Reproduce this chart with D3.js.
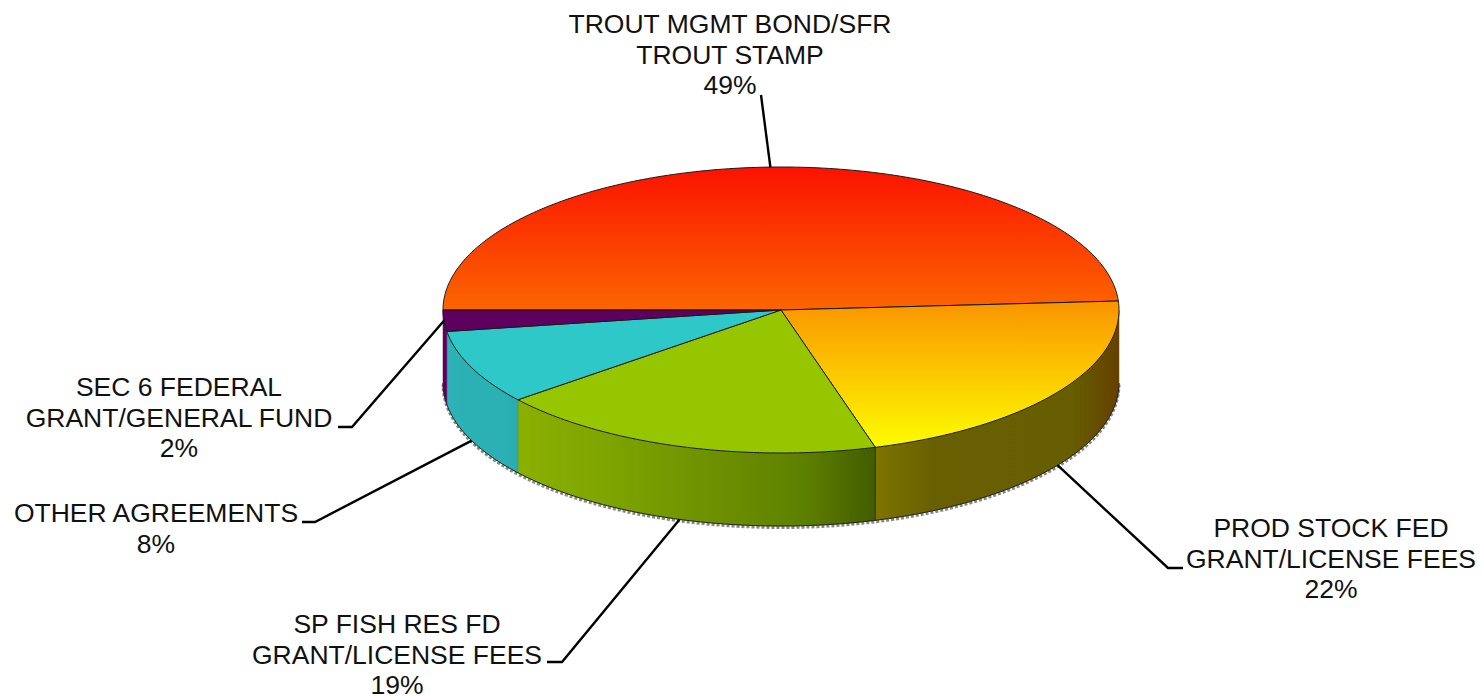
<!DOCTYPE html>
<html>
<head>
<meta charset="utf-8">
<script src="https://cdn.jsdelivr.net/npm/d3@7/dist/d3.min.js"></script>
<style>
html,body{margin:0;padding:0;background:#fff;overflow:hidden}
svg{display:block}
text{font-family:"Liberation Sans",Arial,sans-serif;font-size:26.5px;fill:#111;text-anchor:middle}
</style>
</head>
<body>
<svg id="chart" width="1483" height="697"></svg>
<script>
// Data
const categories = ["TROUT MGMT BOND/SFR|TROUT STAMP", "PROD STOCK FED|GRANT/LICENSE FEES", "SP FISH RES FD|GRANT/LICENSE FEES", "OTHER AGREEMENTS", "SEC 6 FEDERAL|GRANT/GENERAL FUND"];
const values = [49.0, 21.5, 18.7, 8.4, 2.4];
const percentLabels = ["49%", "22%", "19%", "8%", "2%"];

// Styling and layout
const topStops = [["#fc1200","#fb6600"],["#fa9400","#fdfd00"],["#96c600","#96c600"],["#2fc8c8","#2fc8c8"],["#5f005f","#5f005f"]];
const wallStops = [["#000","#000","#000","#000"],["#7d7400","#675f00","#665e00","#654000"],["#8cb000","#7ea400","#5e8000","#425c00"],["#2eb4b8","#2bb0b4","#2bb0b4","#2aacb0"],["#5f005f","#5f005f","#5f005f","#5f005f"]];
const wallOffsets = [0,.25,.8,1];
const labelX = [730, 1331, 397, 156, 179];
const labelTopBaseline = [33, 537, 633, 522, 396];
const elbow = [null, [1168,568,1183], [562,662,547], [315,522,302], [352,427,338]];
const cx = 781, cy = 310, rx = 338, ry = 143, depth = 73, lineGap = 30.7;

const svg = d3.select("#chart");
const defs = svg.append("defs");
const slices = d3.pie().sort(null).startAngle(-Math.PI/2).endAngle(1.5*Math.PI)(values);
const px = a => cx + rx*Math.sin(a), py = a => cy - ry*Math.cos(a);
const samples = (a0,a1) => { const n = Math.max(2,Math.ceil(Math.abs(a1-a0)*60)); return d3.range(n+1).map(i => a0+(a1-a0)*i/n); };
const line = d3.line();
const topPath = s => line([[cx,cy],...samples(s.startAngle,s.endAngle).map(a=>[px(a),py(a)])]) + "Z";
const wallRange = s => [Math.max(s.startAngle,Math.PI/2), Math.min(s.endAngle,1.5*Math.PI)];
const wallPath = s => { const [a0,a1]=wallRange(s); const top=samples(a0,a1).map(a=>[px(a),py(a)]); const bot=top.map(p=>[p[0],p[1]+depth]).reverse(); return line([...top,...bot])+"Z"; };

slices.forEach((s,i)=>{
  const ys = samples(s.startAngle,s.endAngle).map(py);
  const top = defs.append("linearGradient").attr("id","top"+i).attr("gradientUnits","userSpaceOnUse")
    .attr("x1",0).attr("x2",0).attr("y1",d3.min(ys)).attr("y2",d3.max(ys));
  top.append("stop").attr("offset",0).attr("stop-color",topStops[i][0]);
  top.append("stop").attr("offset",1).attr("stop-color",topStops[i][1]);
  const [a0,a1]=wallRange(s);
  if(a1>a0){
    const wall = defs.append("linearGradient").attr("id","wall"+i).attr("gradientUnits","userSpaceOnUse")
      .attr("y1",0).attr("y2",0).attr("x1",Math.min(px(a0),px(a1))).attr("x2",Math.max(px(a0),px(a1)));
    wallOffsets.forEach((o,k)=>wall.append("stop").attr("offset",o).attr("stop-color",wallStops[i][k]));
  }
});

// Shadow under bottom rim
const rim = samples(Math.PI/2,1.5*Math.PI).map(a=>[px(a),py(a)+depth+1.5]);
svg.append("path").attr("d",line(rim)).attr("fill","none").attr("stroke","#888").attr("stroke-width",3).attr("stroke-dasharray","3 2");

// Walls
const walled = slices.map((s,i)=>({s,i})).filter(d=>{const [a,b]=wallRange(d.s);return b>a;});
svg.selectAll("path.wall").data(walled).join("path").attr("class","wall")
  .attr("d",d=>wallPath(d.s)).attr("fill",d=>`url(#wall${d.i})`)
  .attr("stroke",d=>`url(#wall${d.i})`).attr("stroke-width",.5);
// Dividers on the wall
svg.selectAll("line.div").data(walled.filter(d=>d.i===1||d.i===2)).join("line").attr("class","div")
  .attr("x1",d=>px(d.s.endAngle)).attr("x2",d=>px(d.s.endAngle))
  .attr("y1",d=>py(d.s.endAngle)).attr("y2",d=>py(d.s.endAngle)+depth)
  .attr("stroke",d=>d.i===1?"#2c3a00":"#5f9a20").attr("stroke-width",1);
// Bottom rim edge
svg.append("path").attr("d",line(samples(Math.PI/2,1.5*Math.PI).map(a=>[px(a),py(a)+depth]))).attr("fill","none").attr("stroke","#222").attr("stroke-width",1);

// Top faces
svg.selectAll("path.top").data(slices).join("path").attr("class","top")
  .attr("d",topPath).attr("fill",(d,i)=>`url(#top${i})`).attr("stroke","#1a1a1a").attr("stroke-width",1).attr("stroke-linejoin","round");

// Leader lines
slices.forEach((s,i)=>{
  const mid=(s.startAngle+s.endAngle)/2;
  const onWall = mid>Math.PI/2 && mid<1.5*Math.PI && i!==4;
  const start=[px(mid),py(mid)+(onWall?depth:0)];
  const pts = elbow[i] ? [start,[elbow[i][0],elbow[i][1]],[elbow[i][2],elbow[i][1]]] : [start,[761,95]];
  svg.append("path").attr("d",line(pts)).attr("fill","none").attr("stroke","#000").attr("stroke-width",2.4);
});

// Labels
categories.forEach((c,i)=>{
  const lines=[...c.split("|"),percentLabels[i]];
  const t=svg.append("text").attr("x",labelX[i]).attr("y",labelTopBaseline[i]);
  lines.forEach((l,k)=>t.append("tspan").attr("x",labelX[i]).attr("y",labelTopBaseline[i]+k*lineGap).text(l));
});
</script>
</body>
</html>
